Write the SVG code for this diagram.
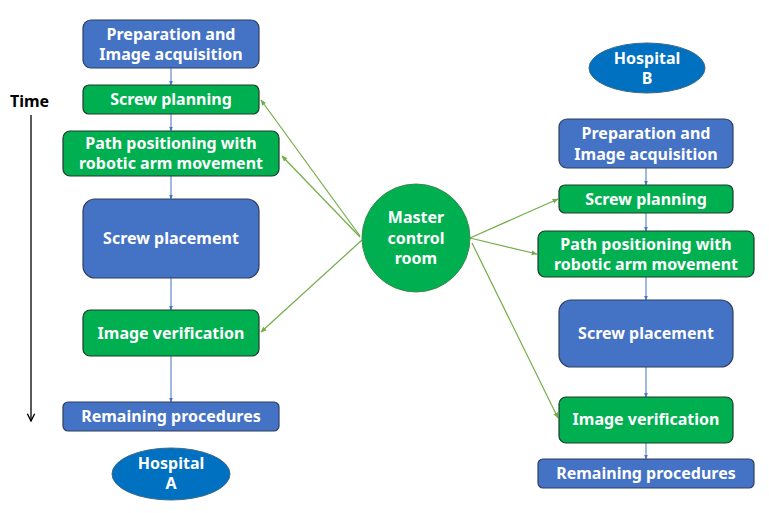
<svg xmlns="http://www.w3.org/2000/svg" width="769" height="513" viewBox="0 0 769 513">
<defs>
<marker id="ab" viewBox="0 0 10 10" refX="9" refY="5" markerWidth="5" markerHeight="5" orient="auto"><path d="M0,1 L10,5 L0,9 z" fill="#4472C4"/></marker>
<marker id="ag" viewBox="0 0 10 10" refX="9" refY="5" markerWidth="5" markerHeight="5" orient="auto"><path d="M0,1 L10,5 L0,9 z" fill="#70AD47"/></marker>
<marker id="ak" viewBox="0 0 10 10" refX="9" refY="5" markerWidth="7" markerHeight="7" orient="auto"><path d="M1,1 L9,5 L1,9" fill="none" stroke="#000" stroke-width="1.5"/></marker>
</defs>
<style>
.b{fill:#4472C4;stroke:#2F3F5F;stroke-width:1.2}
.g{fill:#00B050;stroke:#1E3A2A;stroke-width:1.2}
.e{fill:#0070C0;stroke:#3A6A8A;stroke-width:1}
.t{font-family:"Noto Sans","Open Sans",sans-serif;font-weight:bold;font-size:16px;fill:#fff;text-anchor:middle}
.k{font-family:"Noto Sans","Open Sans",sans-serif;font-weight:bold;font-size:16px;fill:#000}
.cb{stroke:#4472C4;stroke-width:1;fill:none;marker-end:url(#ab)}
.cg{stroke:#70AD47;stroke-width:1.2;fill:none;marker-end:url(#ag)}
</style>
<rect width="769" height="513" fill="#fff"/>
<g id="connectors">
<line class="cb" x1="171" y1="68" x2="171" y2="85"/>
<line class="cb" x1="171" y1="114" x2="171" y2="131"/>
<line class="cb" x1="171" y1="176" x2="171" y2="199"/>
<line class="cb" x1="171" y1="278" x2="171" y2="310"/>
<line class="cb" x1="171" y1="356" x2="171" y2="402"/>
<line class="cb" x1="646" y1="168" x2="646" y2="185"/>
<line class="cb" x1="646" y1="213" x2="646" y2="231"/>
<line class="cb" x1="646" y1="277" x2="646" y2="300"/>
<line class="cb" x1="646" y1="367" x2="646" y2="397"/>
<line class="cb" x1="646" y1="443" x2="646" y2="459"/>
<line class="cg" x1="360" y1="236" x2="261" y2="100"/>
<line class="cg" x1="360" y1="237" x2="282" y2="156"/>
<line class="cg" x1="362" y1="240" x2="261" y2="332"/>
<line class="cg" x1="470" y1="238" x2="558" y2="199"/>
<line class="cg" x1="470" y1="238" x2="537" y2="254"/>
<line class="cg" x1="472" y1="243" x2="558" y2="418"/>
<line x1="31" y1="115" x2="31" y2="421" stroke="#000" stroke-width="1.3" marker-end="url(#ak)"/>
</g>
<g id="time"><text class="k" x="10" y="107">Time</text></g>
<g id="a_prep"><rect class="b" x="83" y="20" width="176" height="48" rx="8"/><text class="t" x="171" y="40">Preparation and</text><text class="t" x="171" y="60">Image acquisition</text></g>
<g id="a_plan"><rect class="g" x="83" y="85" width="176" height="29" rx="6"/><text class="t" x="171" y="105">Screw planning</text></g>
<g id="a_path"><rect class="g" x="63" y="131" width="216" height="45" rx="7"/><text class="t" x="171" y="149">Path positioning with</text><text class="t" x="171" y="169">robotic arm movement</text></g>
<g id="a_place"><rect class="b" x="83" y="199" width="176" height="79" rx="12"/><text class="t" x="171" y="244">Screw placement</text></g>
<g id="a_verif"><rect class="g" x="83" y="310" width="176" height="46" rx="7"/><text class="t" x="171" y="339">Image verification</text></g>
<g id="a_rem"><rect class="b" x="63" y="402" width="216" height="29" rx="5"/><text class="t" x="171" y="422">Remaining procedures</text></g>
<g id="hosp_a"><ellipse class="e" cx="171" cy="474" rx="59" ry="26"/><text class="t" x="171" y="469">Hospital</text><text class="t" x="171" y="489">A</text></g>
<g id="master"><circle cx="416" cy="238" r="54" fill="#00B050" stroke="#3C8A4A" stroke-width="1"/><text class="t" x="416" y="223">Master</text><text class="t" x="416" y="244">control</text><text class="t" x="416" y="264">room</text></g>
<g id="hosp_b"><ellipse class="e" cx="647" cy="68" rx="58" ry="25"/><text class="t" x="647" y="64">Hospital</text><text class="t" x="647" y="84">B</text></g>
<g id="b_prep"><rect class="b" x="559" y="119" width="174" height="49" rx="8"/><text class="t" x="646" y="139">Preparation and</text><text class="t" x="646" y="160">Image acquisition</text></g>
<g id="b_plan"><rect class="g" x="559" y="185" width="174" height="28" rx="6"/><text class="t" x="646" y="205">Screw planning</text></g>
<g id="b_path"><rect class="g" x="538" y="231" width="216" height="46" rx="7"/><text class="t" x="646" y="250">Path positioning with</text><text class="t" x="646" y="270">robotic arm movement</text></g>
<g id="b_place"><rect class="b" x="559" y="300" width="174" height="67" rx="12"/><text class="t" x="646" y="339">Screw placement</text></g>
<g id="b_verif"><rect class="g" x="559" y="397" width="174" height="46" rx="7"/><text class="t" x="646" y="425">Image verification</text></g>
<g id="b_rem"><rect class="b" x="538" y="459" width="216" height="29" rx="5"/><text class="t" x="646" y="479">Remaining procedures</text></g>
</svg>
